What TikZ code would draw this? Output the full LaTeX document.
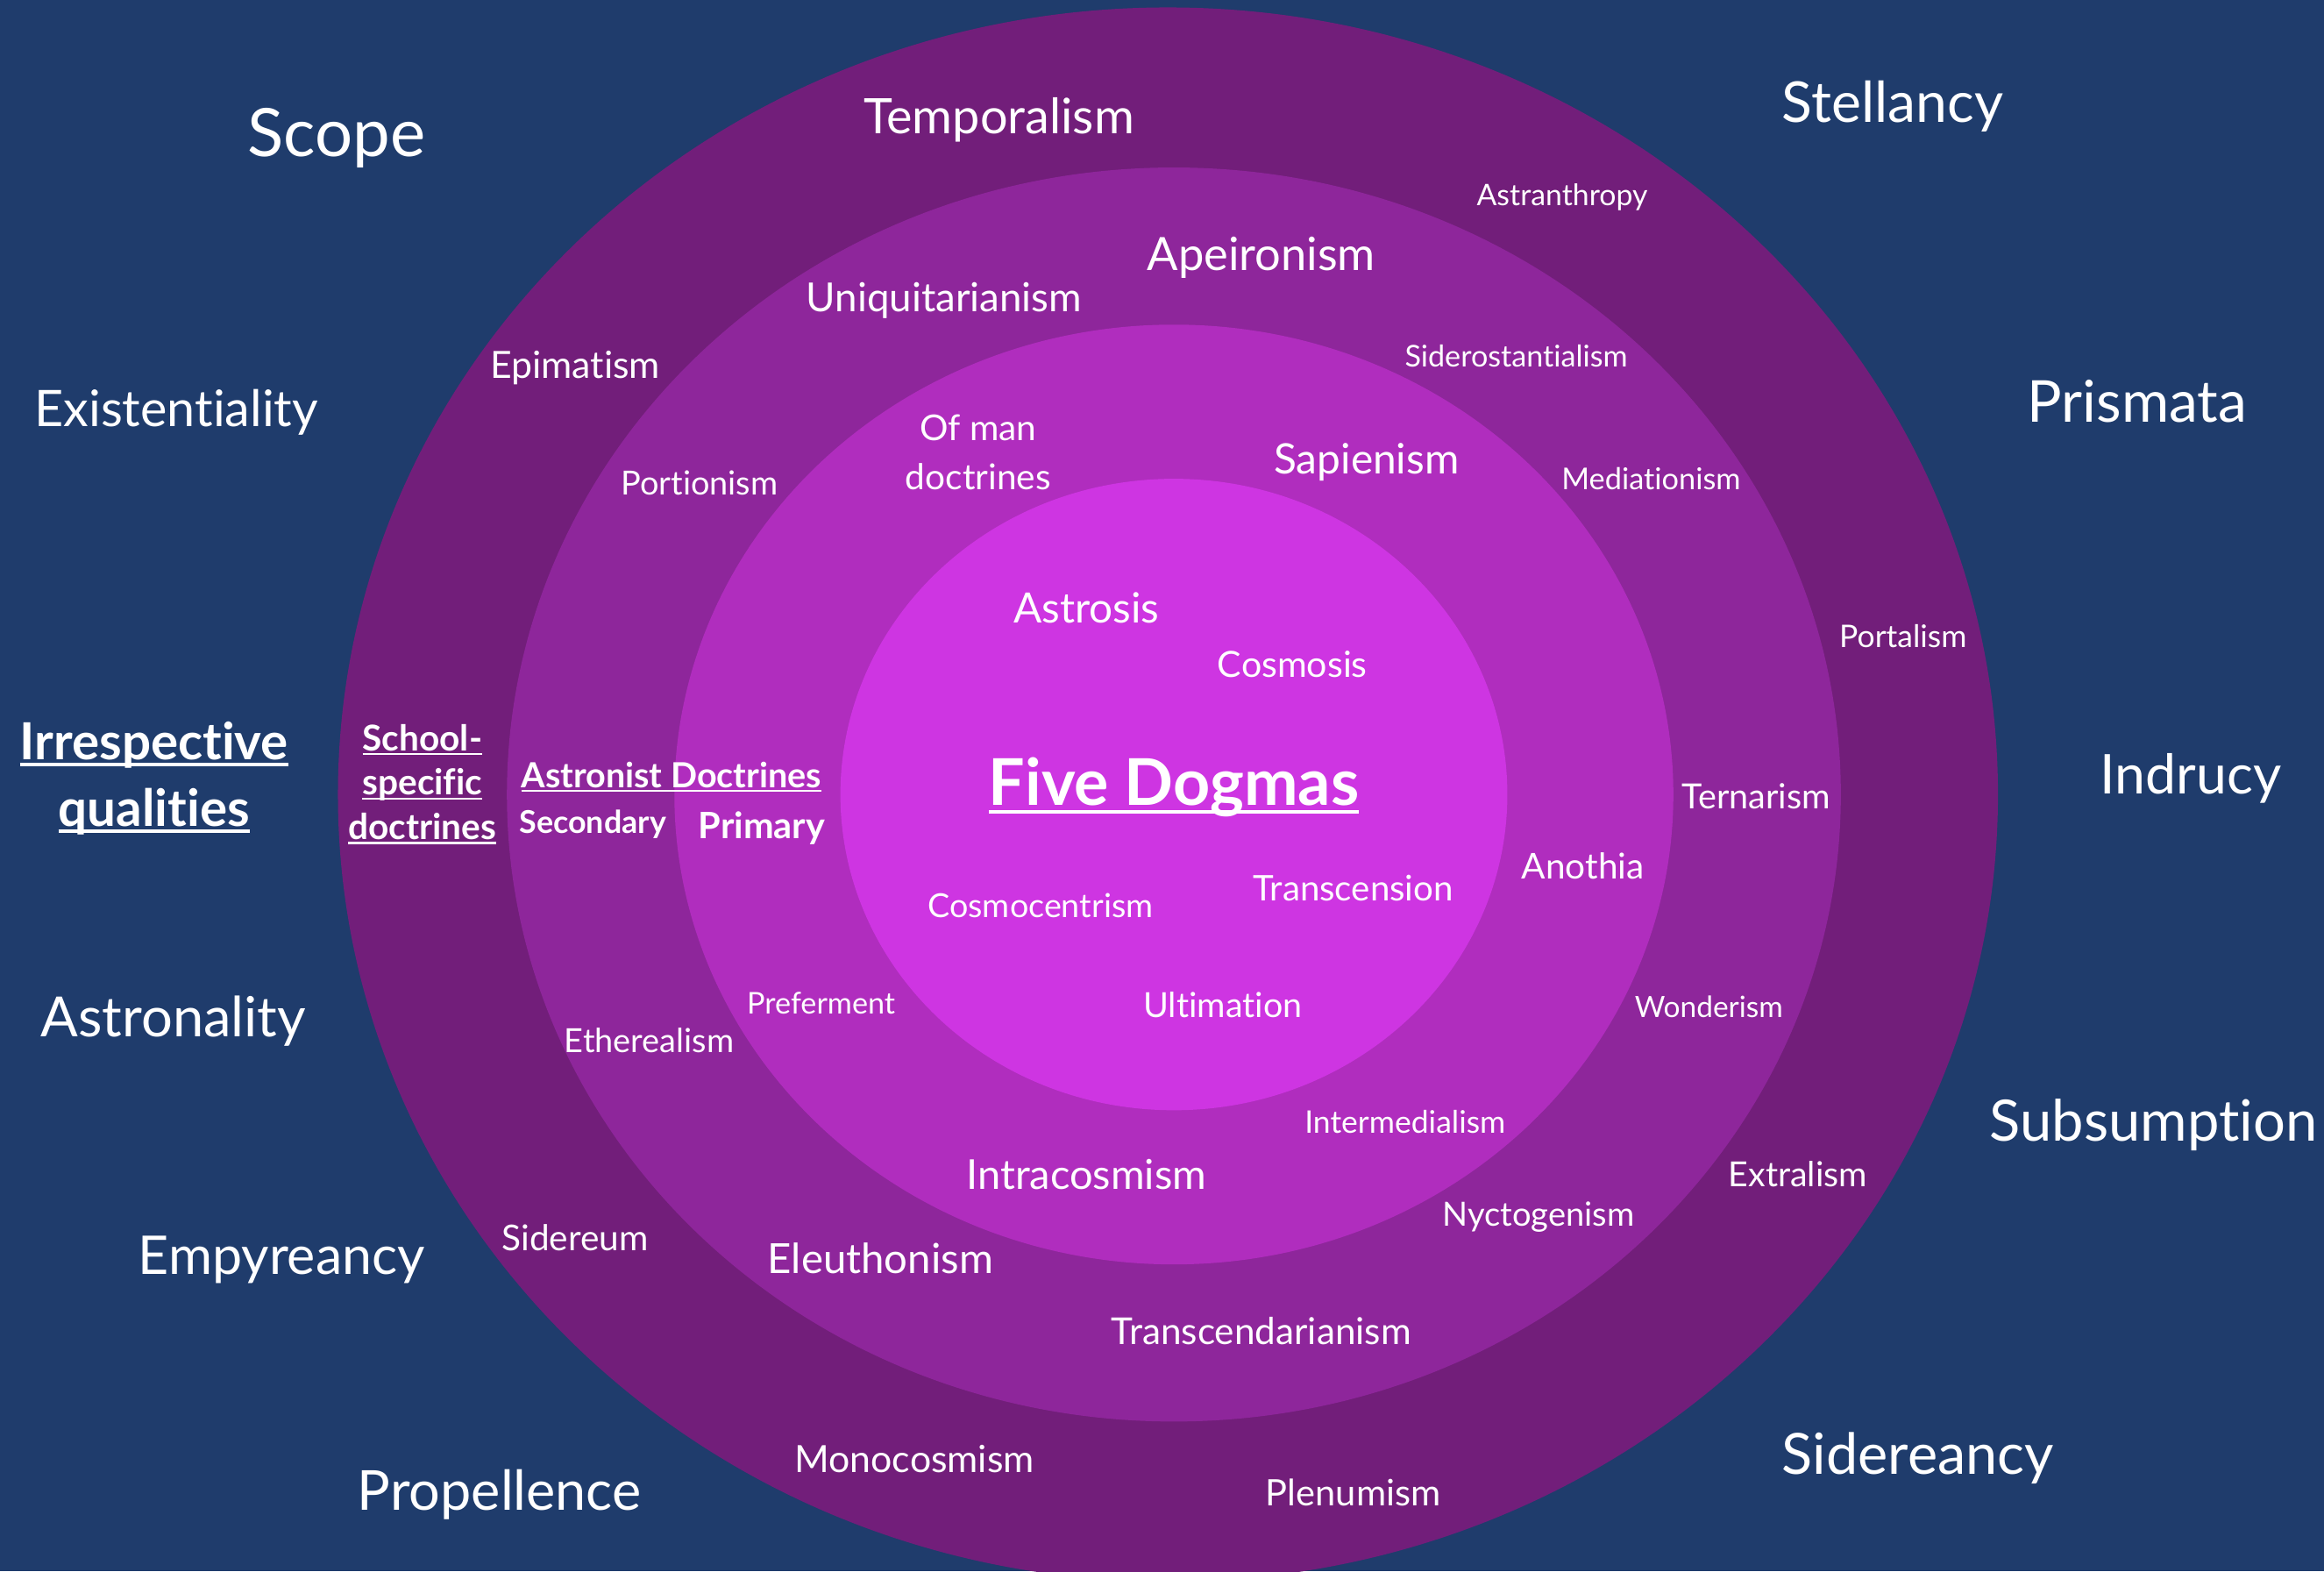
\documentclass[tikz,border=0pt]{standalone}
\usepackage{fontspec}
\setmainfont{Lato}[Ligatures=NoCommon]
\newcommand{\myul}[1]{\setbox0\hbox{#1}\rlap{\rule[-0.13em]{\wd0}{0.06em}}\box0}
\definecolor{navy}{RGB}{31,60,108}
\definecolor{ringA}{RGB}{114,30,122}
\definecolor{ringB}{RGB}{142,38,155}
\definecolor{ringC}{RGB}{176,45,190}
\definecolor{ringD}{RGB}{206,53,226}
\tikzset{
  lbl/.style={text=white, inner sep=0pt, align=center},
  fs/.style={font=\fontsize{#1}{#1}\selectfont},
  fsb/.style={font=\fontsize{#1}{#1}\selectfont\bfseries},
}
\begin{document}
\begin{tikzpicture}[x=1pt,y=-1pt]
\useasboundingbox (0,0) rectangle (1568,1060);
\begin{scope}
\clip (0,0) rectangle (1568,1060);
\fill[navy] (0,0) rectangle (1568,1060);
\fill[ringA] (788,536) ellipse [x radius=560, y radius=531];
\fill[ringB] (792,536) ellipse [x radius=450, y radius=423];
\fill[ringC] (792,536) ellipse [x radius=337, y radius=317];
\fill[ringD] (792,536) ellipse [x radius=225, y radius=213];
\end{scope}
% outside labels
\node[lbl,fs=45] (scope) at (227,93) {Scope};
\node[lbl,fs=34] (exist) at (119,278) {Existentiality};
\node[lbl,font=\fontsize{34.5}{45}\selectfont\bfseries] (irresp) at (104,525) {\myul{Irrespective}\\\myul{qualities}};
\node[lbl,fs=37.4] (astronality) at (117,689) {Astronality};
\node[lbl,fs=36] (empyreancy) at (190,850) {Empyreancy};
\node[lbl,fs=37.2] (propellence) at (337,1008) {Propellence};
\node[lbl,fs=38] (stellancy) at (1277,72) {Stellancy};
\node[lbl,fs=39] (prismata) at (1442,271) {Prismata};
\node[lbl,fs=37] (indrucy) at (1478,525) {Indrucy};
\node[lbl,fs=38.5] (subsumption) at (1453,759) {Subsumption};
\node[lbl,fs=38.3] (sidereancy) at (1294,984) {Sidereancy};
% outer ring
\node[lbl,fs=33] (temporalism) at (674,81) {Temporalism};
\node[lbl,fs=20] (astranthropy) at (1054,133) {Astranthropy};
\node[lbl,fs=25.3] (epimatism) at (388,248) {Epimatism};
\node[lbl,fs=21] (portalism) at (1284,429) {Portalism};
\node[lbl,font=\fontsize{24}{30}\selectfont\bfseries] (school) at (285,529) {\myul{School-}\\\myul{specific}\\\myul{doctrines}};
\node[lbl,fs=23.3] (extralism) at (1213,792) {Extralism};
\node[lbl,fs=24] (sidereum) at (388,835) {Sidereum};
\node[lbl,fs=25.3] (monocosmism) at (617,984) {Monocosmism};
\node[lbl,fs=24.6] (plenumism) at (913,1007) {Plenumism};
% second ring
\node[lbl,fs=31] (apeironism) at (851,174) {Apeironism};
\node[lbl,fs=27] (uniquitarianism) at (637,203) {Uniquitarianism};
\node[lbl,fs=20.2] (siderostantialism) at (1023,240) {Siderostantialism};
\node[lbl,fs=22.4] (portionism) at (472,326) {Portionism};
\node[lbl,fs=20.3] (mediationism) at (1114,323) {Mediationism};
\node[lbl,fsb=23.4] (astronist) at (453,524) {\myul{Astronist Doctrines}};
\node[lbl,fsb=21.2] (secondary) at (400,556) {Secondary};
\node[lbl,fs=23.4] (ternarism) at (1185,537) {Ternarism};
\node[lbl,fs=19.8] (wonderism) at (1153,679) {Wonderism};
\node[lbl,fs=22.4] (etherealism) at (438,702) {Etherealism};
\node[lbl,fs=22.5] (nyctogenism) at (1038,821) {Nyctogenism};
\node[lbl,fs=28] (eleuthonism) at (594,849) {Eleuthonism};
\node[lbl,fs=25] (transcendarianism) at (851,898) {Transcendarianism};
% third ring
\node[lbl,font=\fontsize{24}{33}\selectfont] (ofman) at (660,305) {Of man\\doctrines};
\node[lbl,fs=28.3] (sapienism) at (922,312) {Sapienism};
\node[lbl,fsb=24.5] (primary) at (514,559) {Primary};
\node[lbl,fs=24] (anothia) at (1068,584) {Anothia};
\node[lbl,fs=20.2] (preferment) at (554,677) {Preferment};
\node[lbl,fs=21] (intermedialism) at (948,757) {Intermedialism};
\node[lbl,fs=27.8] (intracosmism) at (733,792) {Intracosmism};
% inner
\node[lbl,fs=28.2] (astrosis) at (733,410) {Astrosis};
\node[lbl,fs=24.3] (cosmosis) at (872,448) {Cosmosis};
\node[lbl,fsb=43.5] (dogmas) at (792,531) {\myul{Five Dogmas}};
\node[lbl,fs=22.3] (cosmocentrism) at (702,611) {Cosmocentrism};
\node[lbl,fs=23.8] (transcension) at (913,599) {Transcension};
\node[lbl,fs=23.3] (ultimation) at (825,678) {Ultimation};
\end{tikzpicture}
\end{document}
